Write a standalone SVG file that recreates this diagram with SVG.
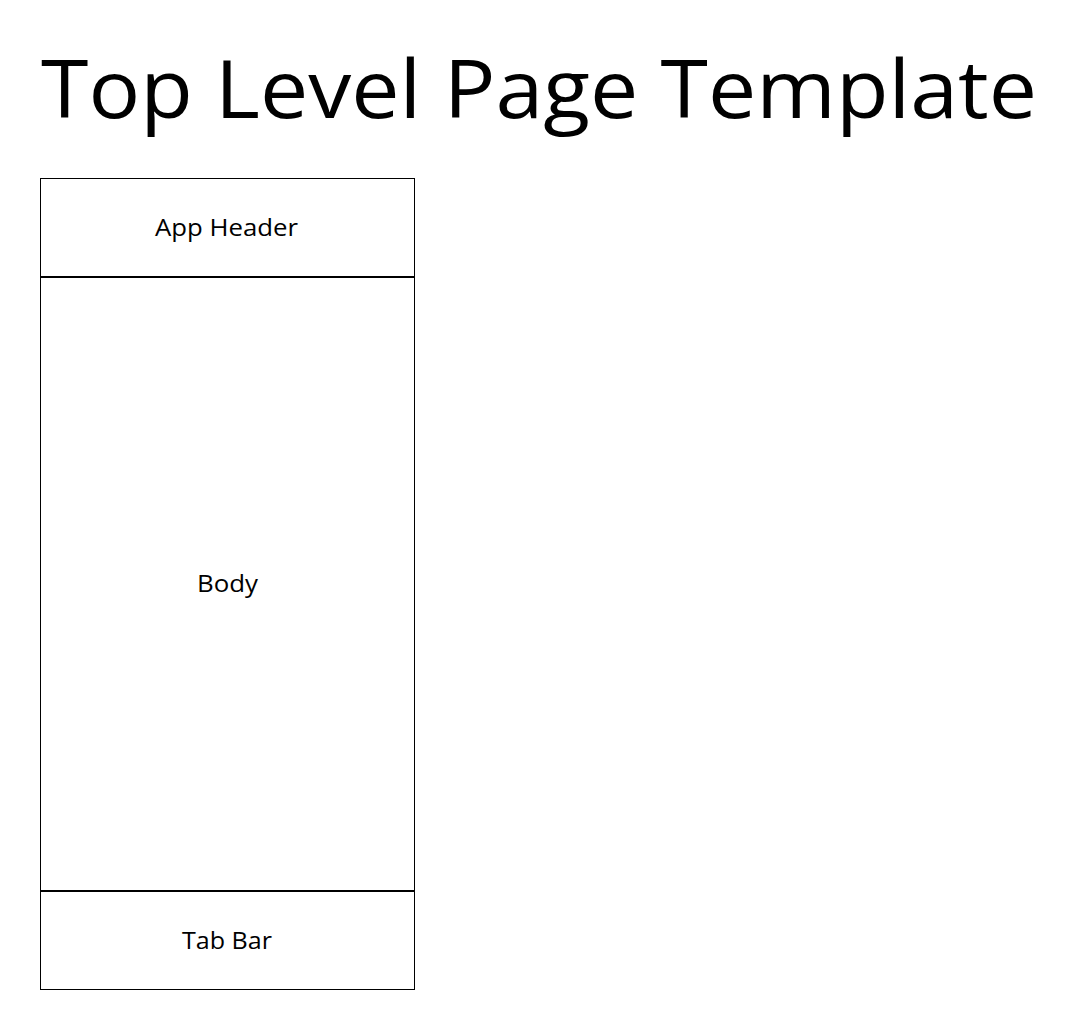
<svg xmlns="http://www.w3.org/2000/svg" width="1080" height="1030" viewBox="0 0 1080 1030">
<style>
.box{fill:#fff;stroke:#000;stroke-width:1}
.lbl{font-family:"Open Sans","Liberation Sans",sans-serif;font-size:23.5px;fill:#000;text-anchor:middle}
.title{font-family:"Open Sans","Liberation Sans",sans-serif;font-size:80px;fill:#000}
</style>
<rect width="1080" height="1030" fill="#fff"/>
<text class="title" x="41" y="118" textLength="996" lengthAdjust="spacingAndGlyphs">Top Level Page Template</text>
<g id="app-header">
<rect class="box" x="40.5" y="178.5" width="374" height="98"/>
<text class="lbl" x="226.5" y="236" textLength="143" lengthAdjust="spacingAndGlyphs">App Header</text>
</g>
<g id="body">
<rect class="box" x="40.5" y="277.5" width="374" height="613"/>
<text class="lbl" x="227.5" y="592" textLength="61" lengthAdjust="spacingAndGlyphs">Body</text>
</g>
<g id="tab-bar">
<rect class="box" x="40.5" y="891.5" width="374" height="98"/>
<text class="lbl" x="227" y="949" textLength="90" lengthAdjust="spacingAndGlyphs">Tab Bar</text>
</g>
<g id="connectors"></g>
</svg>
